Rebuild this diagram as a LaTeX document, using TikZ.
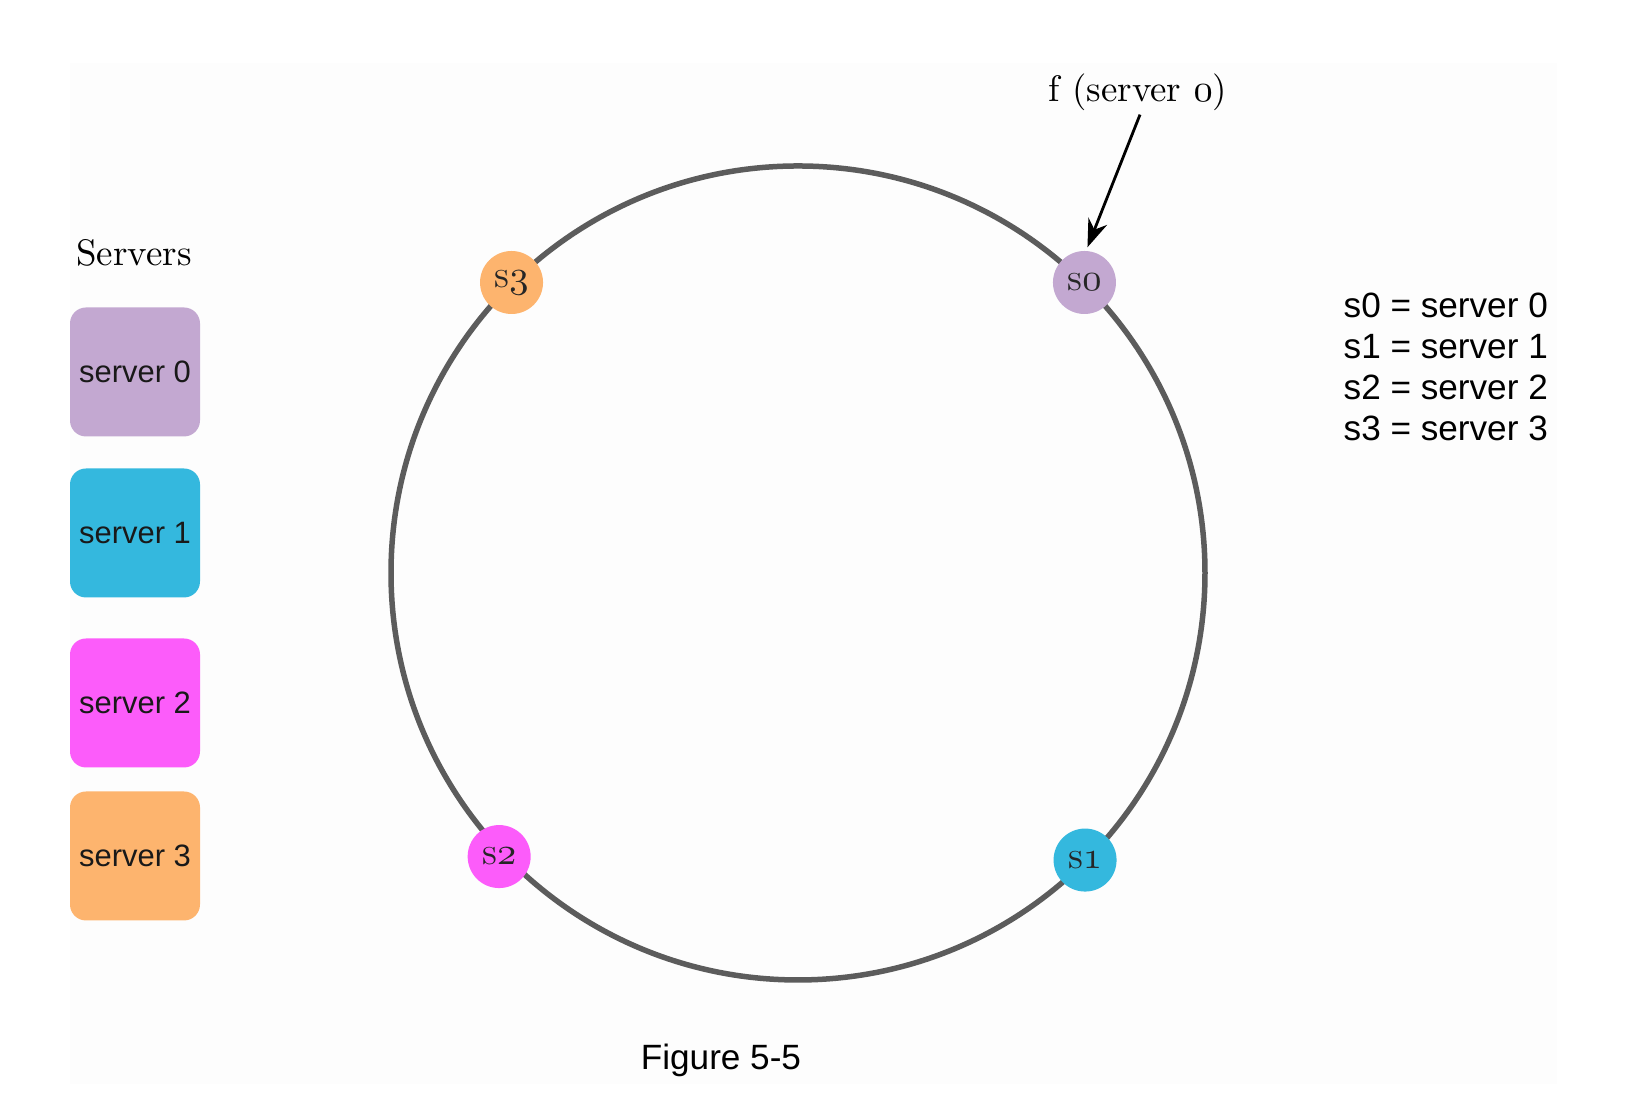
\documentclass[tikz,border=0pt]{standalone}
\usepackage{fontspec}
\usepackage{tikz}
\usetikzlibrary{arrows.meta}
\newfontfamily\arialfont{Liberation Sans}
\definecolor{ringgray}{RGB}{92,92,92}
\definecolor{srvzero}{RGB}{195,168,209}
\definecolor{srvone}{RGB}{52,184,222}
\definecolor{srvtwo}{RGB}{252,92,250}
\definecolor{srvthree}{RGB}{253,180,110}
\newcommand{\osnum}[1]{$\mathnormal{#1}$}

\begin{document}
\begin{tikzpicture}[
  every node/.style={inner sep=0pt},
  srvbox/.style={rounded corners=0.16cm,minimum width=1.30cm,minimum height=1.29cm,
    font=\arialfont\fontsize{8.8}{10}\selectfont,text=black!90},
  srvdot/.style={circle,minimum size=0.63cm,font=\fontsize{11}{13}\selectfont,text=black!85}
]
\useasboundingbox (0,0) rectangle (16.5,10.98);
\fill[black!0.8] (0.70,0.14) rectangle (15.57,10.35);

% hash ring
\coordinate (ring) at (7.98,5.25);
\draw[ringgray,line width=0.055cm] (ring) circle (4.07);

\node[srvdot,fill=srvzero] (s0) at ([shift={(45.4:4.08)}]ring) {s\osnum{0}};
\node[srvdot,fill=srvone] (s1) at ([shift={(-45:4.06)}]ring) {s\osnum{1}};
\node[srvdot,fill=srvtwo] (s2) at ([shift={(223.5:4.12)}]ring) {s\osnum{2}};
\node[srvdot,fill=srvthree] (s3) at ([shift={(134.6:4.08)}]ring) {s\osnum{3}};

\node[font=\fontsize{10.5}{12}\selectfont] (flabel) at (11.38,10.06) {f (server \osnum{0})};
\draw[-{Stealth[length=0.28cm,width=0.2cm]},line width=0.8pt]
  ([xshift=0.02cm,yshift=-1pt]flabel.south) -- ([xshift=0.03cm,yshift=0.03cm]s0.north);

% server list
\node[font=\fontsize{10.5}{12}\selectfont] (title) at (1.34,8.45) {Servers};
\node[srvbox,fill=srvzero] (box0) at (1.35,7.26) {server 0};
\node[srvbox,fill=srvone] (box1) at (1.35,5.65) {server 1};
\node[srvbox,fill=srvtwo] (box2) at (1.35,3.95) {server 2};
\node[srvbox,fill=srvthree] (box3) at (1.35,2.42) {server 3};

% legend
\node[anchor=west,align=left,font=\arialfont\fontsize{10}{11.6}\selectfont] (legend) at (13.43,7.31)
  {s0 = server 0\\s1 = server 1\\s2 = server 2\\s3 = server 3};

\node[font=\arialfont\fontsize{10}{12}\selectfont] (caption) at (7.21,0.38) {Figure 5-5};
\end{tikzpicture}
\end{document}
